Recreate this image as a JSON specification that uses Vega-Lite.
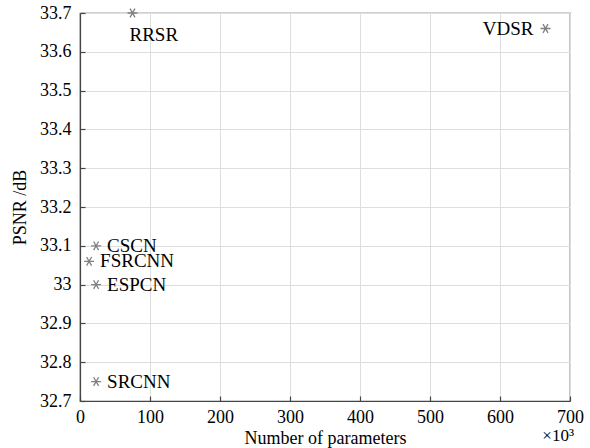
{
  "$schema": "https://vega.github.io/schema/vega-lite/v6.json",
  "width": 490,
  "height": 388,
  "autosize": {"type": "none"},
  "padding": {"left": 80, "top": 13, "right": 20, "bottom": 47},
  "background": "white",
  "config": {
    "font": "Times New Roman",
    "view": {"stroke": "#444", "strokeWidth": 1.2},
    "axis": {
      "labelFont": "Times New Roman",
      "titleFont": "Times New Roman",
      "labelFontSize": 18,
      "titleFontSize": 18,
      "titleFontWeight": "normal",
      "labelColor": "black",
      "titleColor": "black",
      "grid": true,
      "gridColor": "#dedede",
      "gridWidth": 1,
      "domainColor": "#444",
      "domainWidth": 1.2,
      "tickColor": "#444",
      "tickSize": -5,
      "tickWidth": 1.2,
      "labelOverlap": false
    }
  },
  "data": {
    "values": [
      {"model": "RRSR", "params": 75, "psnr": 33.70},
      {"model": "VDSR", "params": 665, "psnr": 33.66},
      {"model": "CSCN", "params": 23, "psnr": 33.10},
      {"model": "FSRCNN", "params": 13, "psnr": 33.06},
      {"model": "ESPCN", "params": 23, "psnr": 33.00},
      {"model": "SRCNN", "params": 23, "psnr": 32.75}
    ]
  },
  "encoding": {
    "x": {
      "field": "params",
      "type": "quantitative",
      "scale": {"domain": [0, 700], "nice": false},
      "axis": {
        "title": "Number of parameters",
        "values": [0, 100, 200, 300, 400, 500, 600, 700],
        "labelFont": "Times New Roman",
        "labelFontSize": 18,
        "grid": true,
        "tickSize": -5,
        "labelOverlap": false,
        "labelPadding": 12,
        "titlePadding": 3,
        "labelFlush": false
      }
    },
    "y": {
      "field": "psnr",
      "type": "quantitative",
      "scale": {"domain": [32.7, 33.7], "nice": false, "zero": false},
      "axis": {
        "title": "PSNR /dB",
        "values": [32.7, 32.8, 32.9, 33.0, 33.1, 33.2, 33.3, 33.4, 33.5, 33.6, 33.7],
        "labelExpr": "format(datum.value, '.4~g')",
        "labelFont": "Times New Roman",
        "labelFontSize": 18,
        "grid": true,
        "tickSize": -5,
        "labelOverlap": false,
        "labelPadding": 14,
        "titlePadding": 10,
        "labelFlush": false
      }
    }
  },
  "layer": [
    {
      "mark": {
        "type": "point",
        "shape": "M-1,0L1,0M-0.5,-0.866L0.5,0.866M-0.5,0.866L0.5,-0.866",
        "filled": false,
        "stroke": "#808080",
        "strokeWidth": 1.3,
        "size": 100,
        "opacity": 1,
        "clip": false
      }
    },
    {
      "transform": [{"filter": "datum.model != 'RRSR' && datum.model != 'VDSR'"}],
      "mark": {"type": "text", "align": "left", "baseline": "middle", "dx": 11, "fontSize": 19, "font": "Times New Roman", "color": "black"},
      "encoding": {"text": {"field": "model"}}
    },
    {
      "transform": [{"filter": "datum.model == 'RRSR'"}],
      "mark": {"type": "text", "align": "left", "baseline": "middle", "dx": -3, "dy": 22, "fontSize": 19, "font": "Times New Roman", "color": "black"},
      "encoding": {"text": {"field": "model"}}
    },
    {
      "transform": [{"filter": "datum.model == 'VDSR'"}],
      "mark": {"type": "text", "align": "right", "baseline": "middle", "dx": -12, "fontSize": 19, "font": "Times New Roman", "color": "black"},
      "encoding": {"text": {"field": "model"}}
    },
    {
      "data": {"values": [{"params": 700, "psnr": 32.7, "unit": "×10³"}]},
      "mark": {"type": "text", "align": "right", "baseline": "middle", "dx": 4, "dy": 35, "fontSize": 17, "font": "Times New Roman", "color": "black", "clip": false},
      "encoding": {"text": {"field": "unit"}}
    }
  ]
}
